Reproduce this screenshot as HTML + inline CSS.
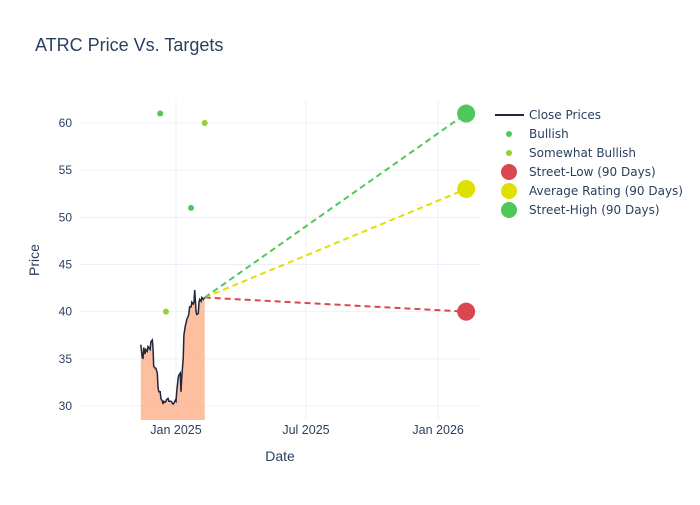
<!DOCTYPE html>
<html><head><meta charset="utf-8"><style>
body{margin:0;background:#fff;font-family:"Liberation Sans",sans-serif}
</style></head><body>
<svg id="c" width="700" height="500" xmlns="http://www.w3.org/2000/svg" font-family="Liberation Sans, sans-serif"></svg>
<script>
const priceDays=[-49,-47,-46,-45,-43,-42,-40,-39,-38,-36,-35,-33,-32,-31,-29,-28,-26,-25,-24,-22,-21,-19,-18,-17,-15,-14,-13,-11,-10,-8,-7,-6,-4,-3,-1,0,1,3,4,6,7,8,10,11,13,14,15,17,18,19,21,22,24,25,26,28,29,31,32,33,35,36,38,40];
const prices=[36.5,35.2,35,36.2,35.5,36,35.8,36.3,36.2,36,36.8,37,36.2,34.2,34,34,33.5,32,31.5,31.5,30.8,30.5,30.2,30.5,30.4,30.5,30.7,30.8,30.5,30.5,30.5,30.4,30.2,30.3,30.6,30.5,31.5,33,33.3,33.5,31.5,33,35,37.5,38.5,38.8,39.2,39.5,39.8,40.5,40.5,41,40.8,41,42.3,40,39.7,39.8,41,41.3,41.1,41.5,41.3,41.5];
const bullishDays=[-22,21];
const bullishVals=[61,51];
const sbDays=[-14,40];
const sbVals=[40,60];
const targetNames=["Street-Low (90 Days)","Average Rating (90 Days)","Street-High (90 Days)"];
const targetVals=[40,53,61];
const targetColors=["#d9484f","#e0e000","#50c75a"];
const targetDay=404;
const xTickDays=[0,181,365];
const xTickLabels=["Jan 2025","Jul 2025","Jan 2026"];
const yTicks=[30,35,40,45,50,55,60];

const svg=document.getElementById('c');
const NS="http://www.w3.org/2000/svg";
const L=80,R=480,T=100,B=420;
const x=d=>176+d*0.7182;
const y=v=>406-(v-30)*9.434;
function el(t,a,p){const e=document.createElementNS(NS,t);for(const k in a)e.setAttribute(k,a[k]);(p||svg).appendChild(e);return e;}

let t=el('text',{x:35,y:51,'font-size':18,fill:'#2a3f5f'});t.textContent="ATRC Price Vs. Targets";



yTicks.forEach(v=>{
 const g=el('line',{x1:L,x2:R,y1:y(v),y2:y(v),stroke:'#ebf0f8'});
 
 
 const l=el('text',{x:L-8,y:y(v)+4,'font-size':12,fill:'#2a3f5f','text-anchor':'end'});l.textContent=v;
 
 
});
xTickDays.forEach((d,i)=>{
 const g=el('line',{x1:x(d),x2:x(d),y1:T,y2:B,stroke:'#ebf0f8'});
 
 
 const l=el('text',{x:x(d),y:B+14,'font-size':12.5,fill:'#2a3f5f','text-anchor':'middle'});l.textContent=xTickLabels[i];
 
 
});
t=el('text',{x:280,y:461,'font-size':14,fill:'#2a3f5f','text-anchor':'middle'});t.textContent="Date";


t=el('text',{x:39,y:260,'font-size':14,fill:'#2a3f5f','text-anchor':'middle',transform:'rotate(-90 39 260)'});t.textContent="Price";



let pts=priceDays.map((d,i)=>x(d).toFixed(1)+","+y(prices[i]).toFixed(1));
let a=el('polygon',{points:x(priceDays[0])+","+B+" "+pts.join(" ")+" "+x(priceDays[priceDays.length-1])+","+B,fill:'#fdb48e','fill-opacity':0.85});


let ln=el('polyline',{points:pts.join(" "),fill:'none',stroke:'#1f2640','stroke-width':1.5});



const lastD=priceDays[priceDays.length-1],lastV=prices[prices.length-1];
targetVals.forEach((v,i)=>{
 const d=el('line',{x1:x(lastD),y1:y(lastV),x2:x(targetDay),y2:y(v),stroke:targetColors[i],'stroke-width':2,'stroke-dasharray':'6,4'});
 
 
 const c=el('circle',{cx:x(targetDay),cy:y(v),r:9,fill:targetColors[i]});
 
 
});
bullishDays.forEach((d,i)=>{
 const c=el('circle',{cx:x(d),cy:y(bullishVals[i]),r:3,fill:'#50c75a'});
 
 
});
sbDays.forEach((d,i)=>{
 const c=el('circle',{cx:x(d),cy:y(sbVals[i]),r:3,fill:'#93d12e'});
 
 
});

const legend=[["line","#1f2640","Close Prices"],["s","#50c75a","Bullish"],["s","#93d12e","Somewhat Bullish"],["b",targetColors[0],targetNames[0]],["b",targetColors[1],targetNames[1]],["b",targetColors[2],targetNames[2]]];
legend.forEach((e,i)=>{
 const yy=115+i*19;
 if(e[0]=="line"){const m=el('line',{x1:495,x2:524,y1:yy,y2:yy,stroke:e[1],'stroke-width':2});}
 else{const m=el('circle',{cx:509,cy:yy,r:e[0]=="s"?3:8,fill:e[1]});}
 const l=el('text',{x:529,y:yy+4,'font-size':12,fill:'#2a3f5f','font-family':'DejaVu Sans, sans-serif'});l.textContent=e[2];
 
 
});
</script>
</body></html>
